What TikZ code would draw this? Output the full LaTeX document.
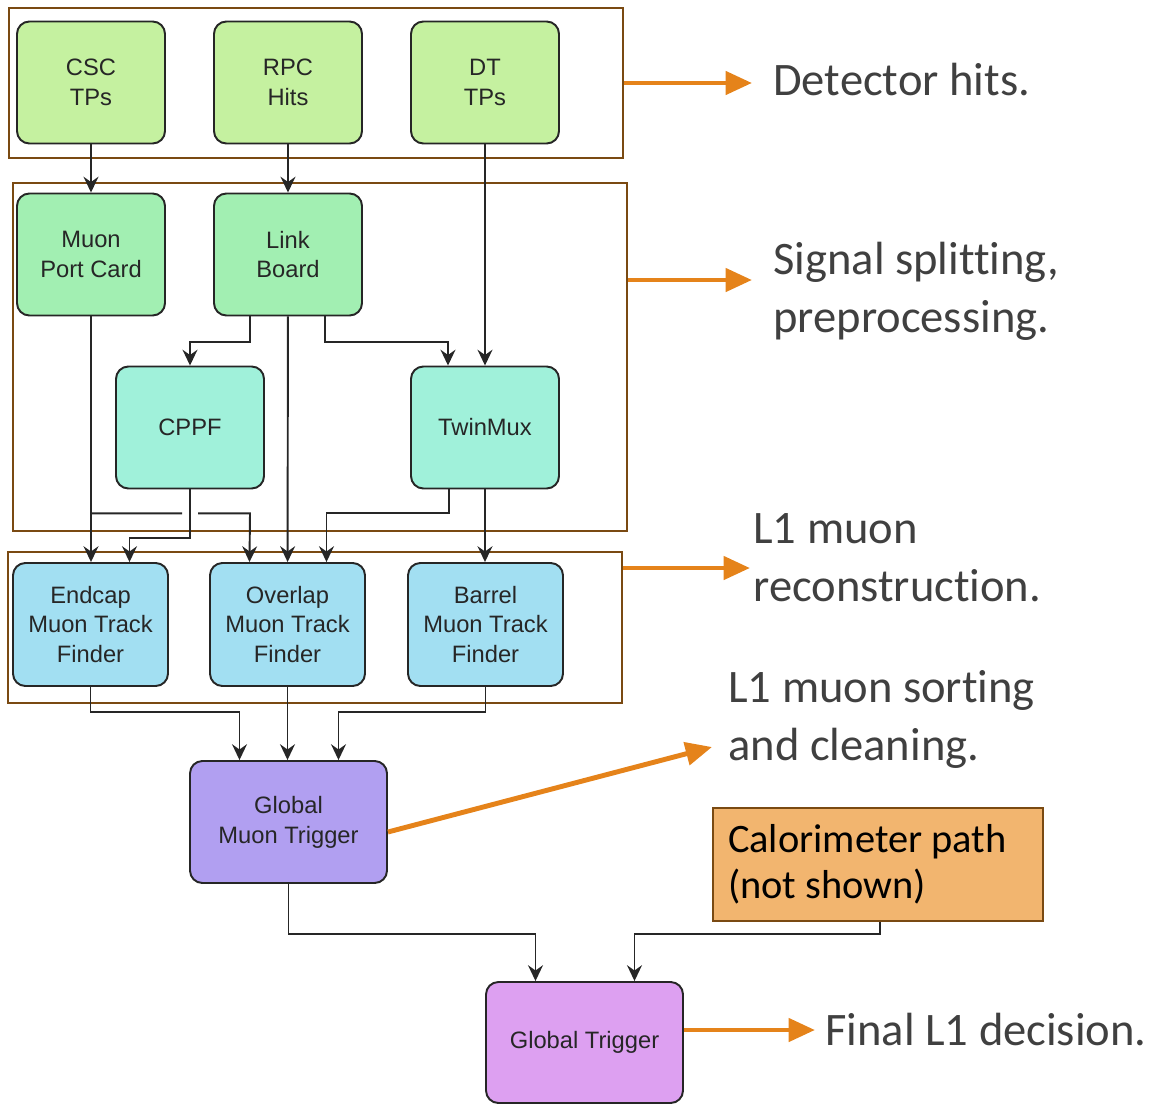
\documentclass[tikz,border=0pt]{standalone}
\usepackage{tikz}
\usetikzlibrary{arrows.meta}
\usepackage{fontspec}
\setmainfont{Liberation Sans}
\newfontfamily\notefont[Ligatures={NoCommon}]{Carlito}
\usepackage{xcolor}
\definecolor{hitgreen}{HTML}{C5F1A0}
\definecolor{mintgreen}{HTML}{A2EFB2}
\definecolor{aqua}{HTML}{A0F1DA}
\definecolor{skyblue}{HTML}{A2DFF2}
\definecolor{lavender}{HTML}{B19FF1}
\definecolor{orchid}{HTML}{DDA0F1}
\definecolor{caloorange}{HTML}{F2B56F}
\definecolor{framebrown}{HTML}{7A4A12}
\definecolor{notearrow}{HTML}{E5831A}
\definecolor{notegray}{HTML}{404040}

\begin{document}
\begin{tikzpicture}[>={Stealth[length=9pt,width=8.5pt,inset=3pt]}, x=0.02cm, y=-0.02cm,
    box/.style={draw=black!85, line width=1.1pt, rounded corners=7pt, align=center, text=black!85,
      font=\fontsize{13.5}{17}\selectfont, minimum width=2.96cm, minimum height=2.44cm, inner sep=0pt},
    finder/.style={box, fill=skyblue, minimum width=3.1cm, minimum height=2.46cm},
    grp/.style={draw=framebrown, line width=1.5pt, minimum width=12.28cm, inner sep=0pt},
    link/.style={->, draw=black!85, line width=1.1pt},
    note/.style={-{Triangle[length=15pt,width=13pt]}, draw=notearrow, line width=2.8pt},
    notetext/.style={anchor=west, inner sep=0pt, align=flush left, text=notegray,
      font=\notefont\fontsize{26.5}{33}\selectfont}]
      \useasboundingbox (0,0) rectangle (1160,1105);

      \node[grp, minimum height=3cm] (hitsgrp) at (316,83) {};
      \node[grp, minimum height=6.96cm] (prepgrp) at (320,357) {};
      \node[grp, minimum height=3.02cm] (recogrp) at (315,627.5) {};

      \node[box, fill=hitgreen] (csc) at (91,82.5) {CSC\\TPs};
      \node[box, fill=hitgreen] (rpc) at (288,82.5) {RPC\\Hits};
      \node[box, fill=hitgreen] (dt) at (485,82.5) {DT\\TPs};
      \node[box, fill=mintgreen] (mpc) at (91,254.5) {Muon\\Port Card};
      \node[box, fill=mintgreen] (lb) at (288,254.5) {Link\\Board};
      \node[box, fill=aqua] (cppf) at (190,427.5) {CPPF};
      \node[box, fill=aqua] (tm) at (485,427.5) {TwinMux};
      \node[finder] (emtf) at (90.5,624.5) {Endcap\\Muon Track\\Finder};
      \node[finder] (omtf) at (287.5,624.5) {Overlap\\Muon Track\\Finder};
      \node[finder] (bmtf) at (485.5,624.5) {Barrel\\Muon Track\\Finder};
      \node[box, fill=lavender, minimum width=3.94cm] (gmt) at (288.5,822) {Global\\Muon Trigger};
      \node[box, fill=orchid, minimum width=3.94cm, minimum height=2.42cm] (gt) at (584.5,1042.5) {Global Trigger};
      \node[draw=framebrown, fill=caloorange, line width=1.6pt, minimum height=2.26cm, inner xsep=0.3cm,
        text width=6.0cm, align=flush left, font=\notefont\fontsize{23}{26}\selectfont] (calo) at (878,864.5)
        {Calorimeter path\\(not shown)};

      \node[notetext] (hitsnote) at (773,80) {Detector hits.};
      \node[notetext] (prepnote) at (773,291) {Signal splitting,\\preprocessing.};
      \node[notetext] (reconote) at (753,558) {L1 muon\\reconstruction.};
      \node[notetext] (sortnote) at (728,719) {L1 muon sorting\\and cleaning.};
      \node[notetext] (finalnote) at (825,1030) {Final L1 decision.};
      \coordinate (sorttip) at (712,747);

      \draw[link] (csc) -- (mpc);
      \draw[link] (rpc) -- (lb);
      \draw[link] (dt) -- (tm);
      \draw[link] ([shift={(-38,0)}]lb.south) -- ++(0,26) -| (cppf.north);
      \draw[link] ([shift={(37,0)}]lb.south) -- ++(0,26) -| ([shift={(-37,0)}]tm.north);
      \draw[link] (lb) -- (omtf);
      \draw[link] (mpc.south) -- (mpc.south |- emtf.north);
      \draw[link] ([shift={(0,197)}]mpc.south) -- ++(91,0) ++(16,0) -- ++(52,0) -- ([shift={(-38,0)}]omtf.north);
      \draw[link] (cppf.south) -- ++(0,49) -| ([shift={(39,0)}]emtf.north);
      \draw[link] ([shift={(-36,0)}]tm.south) -- ++(0,24) -| ([shift={(39,0)}]omtf.north);
      \draw[link] (tm) -- (tm |- bmtf.north);
      \draw[link] (emtf.south) -- ++(0,25) -| ([shift={(-49,0)}]gmt.north);
      \draw[link] (omtf) -- (omtf |- gmt.north);
      \draw[link] (bmtf.south) -- ++(0,25) -| ([shift={(50,0)}]gmt.north);
      \draw[link] (gmt.south) -- ++(0,50) -| ([shift={(-49,0)}]gt.north);
      \draw[link] ([shift={(2,0)}]calo.south) -- ++(0,12) -| ([shift={(50,0)}]gt.north);

      \draw[note, shorten >=0.42cm] (hitsgrp.east) -- (hitsgrp.east -| hitsnote.west);
      \draw[note, shorten >=0.42cm] ([yshift=1.54cm]prepgrp.east) -- ([yshift=1.54cm]prepgrp.east -| prepnote.west);
      \draw[note, shorten >=0.06cm] ([yshift=1.19cm]recogrp.east) -- ([yshift=1.19cm]recogrp.east -| reconote.west);
      \draw[note] ([yshift=-0.2cm]gmt.east) -- (sorttip);
      \draw[note, shorten >=0.2cm] ([yshift=0.25cm]gt.east) -- ([yshift=0.25cm]gt.east -| finalnote.west);
    \end{tikzpicture}
\end{document}
